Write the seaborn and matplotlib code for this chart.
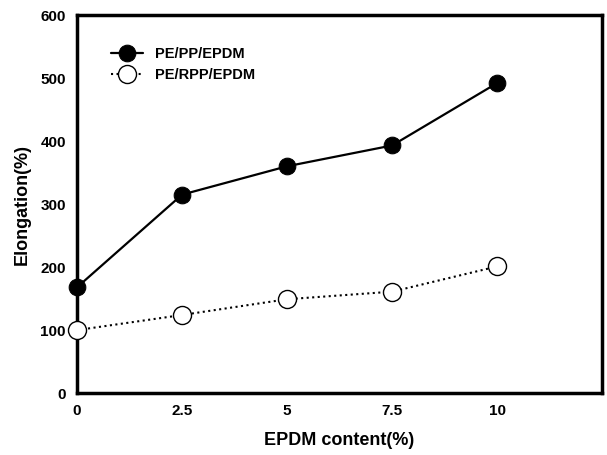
import pandas as pd
import seaborn as sns
import matplotlib.pyplot as plt

# data
epdm = [0, 2.5, 5, 7.5, 10]
pe_pp = [168, 315, 360, 393, 492]
pe_rpp = [100, 124, 149, 161, 201]
xticks = [0, 2.5, 5, 7.5, 10]
xticklabels = ['0', '2.5', '5', '7.5', '10']
yticks = [0, 100, 200, 300, 400, 500, 600]

df = pd.DataFrame({'EPDM': epdm, 'PE/PP/EPDM': pe_pp, 'PE/RPP/EPDM': pe_rpp})

sns.set_style('white')
plt.rcParams['font.family'] = ['Liberation Sans', 'DejaVu Sans']
plt.rcParams['font.weight'] = 'bold'
plt.rcParams['text.color'] = 'black'
plt.rcParams['axes.labelcolor'] = 'black'
plt.rcParams['xtick.labelcolor'] = 'black'
plt.rcParams['ytick.labelcolor'] = 'black'

fig = plt.figure(figsize=(6.07, 4.55), dpi=100)
ax = fig.add_axes([0.127, 0.136, 0.865, 0.831])

sns.lineplot(data=df, x='EPDM', y='PE/PP/EPDM', ax=ax, color='black', lw=1.6,
             marker='o', markersize=12, markerfacecolor='black',
             markeredgecolor='black', label='PE/PP/EPDM', clip_on=False, zorder=3)
sns.lineplot(data=df, x='EPDM', y='PE/RPP/EPDM', ax=ax, color='black', lw=1.5,
             linestyle=':', marker='o', markersize=13, markerfacecolor='white',
             markeredgecolor='black', markeredgewidth=1, label='PE/RPP/EPDM',
             clip_on=False, zorder=3)

ax.set_xlim(0, 12.5)
ax.set_ylim(0, 600)
ax.set_xticks(xticks)
ax.set_xticklabels(xticklabels)
ax.set_yticks(yticks)
ax.tick_params(direction='in', length=3, width=0.6, color='#999999',
               labelsize=11, pad=8)
for lab in ax.get_xticklabels() + ax.get_yticklabels():
    lab.set_fontweight('bold')

for sp in ax.spines.values():
    sp.set_linewidth(2.5)
    sp.set_color('black')

ax.set_xlabel('EPDM content(%)', fontsize=13, fontweight='bold', labelpad=10)
ax.set_ylabel('Elongation(%)', fontsize=13, fontweight='bold', labelpad=7)

leg = ax.legend(loc='upper left', bbox_to_anchor=(0.04, 0.95), frameon=False,
                fontsize=10.5, handlelength=2.2, labelspacing=0.5)
for t in leg.get_texts():
    t.set_fontweight('bold')

fig.savefig('out.png', dpi=100)
